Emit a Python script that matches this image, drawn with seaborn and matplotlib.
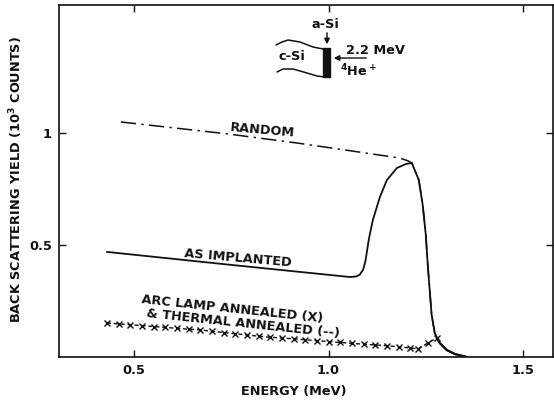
import matplotlib
matplotlib.use("Agg")
import matplotlib.pyplot as plt
import seaborn as sns

# steep leading edge shared by all spectra (MeV, 10^3 counts)
edge_E = [1.214, 1.232, 1.242, 1.250, 1.255, 1.260, 1.265, 1.273, 1.286, 1.304, 1.325, 1.356]
edge_Y = [0.866, 0.790, 0.679, 0.545, 0.411, 0.299, 0.188, 0.107, 0.062, 0.031, 0.013, 0.0]

random_E = [0.466, 0.600, 0.739, 0.919, 1.050, 1.183, 1.205] + edge_E
random_Y = [1.049, 1.023, 0.996, 0.955, 0.922, 0.888, 0.875] + edge_Y

implanted_E = [0.430, 0.750, 1.055, 1.070, 1.080, 1.089, 1.095, 1.104, 1.114, 1.132, 1.150,
               1.176, 1.200] + edge_E
implanted_Y = [0.469, 0.411, 0.357, 0.359, 0.367, 0.390, 0.430, 0.530, 0.612, 0.714, 0.790,
               0.844, 0.862] + edge_Y

annealed_E = [0.43, 0.46, 0.49, 0.52, 0.55, 0.58, 0.61, 0.64, 0.67, 0.70, 0.73, 0.76, 0.79,
              0.82, 0.85, 0.88, 0.91, 0.94, 0.97, 1.00, 1.03, 1.06, 1.09, 1.12, 1.15, 1.18,
              1.21, 1.23, 1.255, 1.278]
annealed_Y = [0.152, 0.148, 0.144, 0.140, 0.136, 0.132, 0.128, 0.124, 0.121, 0.115, 0.109,
              0.104, 0.098, 0.093, 0.088, 0.085, 0.081, 0.077, 0.073, 0.069, 0.065, 0.061,
              0.057, 0.054, 0.050, 0.046, 0.040, 0.036, 0.062, 0.085]
annealed_tail_E = [1.278] + edge_E[8:]
annealed_tail_Y = [0.085] + edge_Y[8:]

x_ticks = [0.5, 1.0, 1.5]
x_tick_labels = ["0.5", "1.0", "1.5"]
y_ticks = [0.5, 1.0]
y_tick_labels = ["0.5", "1"]

sns.set_style("ticks")
plt.rcParams["font.family"] = ["DejaVu Sans"]
plt.rcParams["font.weight"] = "bold"
plt.rcParams["mathtext.default"] = "regular"

fig = plt.figure(figsize=(5.54, 4.01), dpi=100)
ax = fig.add_axes([59 / 554, 44 / 401, 494 / 554, 352 / 401])

ink = "#111111"
fs = 9.3
sns.lineplot(x=random_E, y=random_Y, sort=False, estimator=None, ax=ax,
             color=ink, lw=1.1, linestyle=(0, (10, 3.5, 1.5, 3.5)))
sns.lineplot(x=implanted_E, y=implanted_Y, sort=False, estimator=None, ax=ax,
             color=ink, lw=1.3)
sns.lineplot(x=annealed_E, y=annealed_Y, sort=False, estimator=None, ax=ax,
             color=ink, lw=1.0, linestyle=(0, (3, 2)), marker="x", markersize=4,
             markeredgewidth=1.0, markeredgecolor=ink)
sns.lineplot(x=annealed_tail_E, y=annealed_tail_Y, sort=False, estimator=None, ax=ax,
             color=ink, lw=1.6)

ax.set_xlim(0.307, 1.577)
ax.set_ylim(0, 1.571)
ax.set_xticks(x_ticks, x_tick_labels)
ax.set_yticks(y_ticks, y_tick_labels)
ax.tick_params(direction="in", top=True, right=True, length=5, width=1.0,
               labelsize=fs, pad=5, colors=ink)
for s in ax.spines.values():
    s.set_linewidth(1.2)
    s.set_color(ink)

ax.set_xlabel("ENERGY (MeV)", fontsize=fs, fontweight="bold", color=ink)
ax.xaxis.set_label_coords(0.476, -0.080)
ax.set_ylabel("BACK SCATTERING YIELD (10$^3$ COUNTS)", fontsize=fs,
              fontweight="bold", color=ink)
ax.yaxis.set_label_coords(-0.068, 0.505)

ax.text(0.829, 1.012, "RANDOM", fontsize=fs, rotation=-5, ha="center", va="center", color=ink)
ax.text(0.767, 0.442, "AS IMPLANTED", fontsize=fs, rotation=-5, ha="center", va="center",
        color=ink)
ax.text(0.752, 0.214, "ARC LAMP ANNEALED (X)", fontsize=fs, rotation=-6, ha="center",
        va="center", color=ink)
ax.text(0.780, 0.147, "& THERMAL ANNEALED (--)", fontsize=fs, rotation=-6, ha="center",
        va="center", color=ink)

# sample sketch at the top (drawn in pixel space of a small inset)
ins = fig.add_axes([270 / 554, 1 - 85 / 401, 140 / 554, 75 / 401])
ins.set_xlim(270, 410)
ins.set_ylim(85, 10)
ins.axis("off")
ins.plot([276, 282, 288, 300, 313, 323], [45, 42, 40, 42, 47, 49], color=ink, lw=1.1)
ins.plot([277, 283, 293, 307, 317, 325], [72, 69, 69, 73, 76, 77], color=ink, lw=1.1)
ins.fill_between([323, 330], 48, 77, color=ink)
ins.annotate("", xy=(327, 47), xytext=(327, 30),
             arrowprops=dict(arrowstyle="-|>", color=ink, lw=1.0, mutation_scale=8))
ins.annotate("", xy=(331, 58), xytext=(369, 58),
             arrowprops=dict(arrowstyle="-|>", color=ink, lw=1.0, mutation_scale=8))
ins.text(325, 24, "a-Si", fontsize=fs, ha="center", va="center", color=ink)
ins.text(292, 57, "c-Si", fontsize=fs, ha="center", va="center", color=ink)
ins.text(376, 51, "2.2 MeV", fontsize=fs, ha="center", va="center", color=ink)
ins.text(358, 71, "$^4$He$^+$", fontsize=fs, ha="center", va="center", color=ink)

fig.savefig("out.png", dpi=100)
